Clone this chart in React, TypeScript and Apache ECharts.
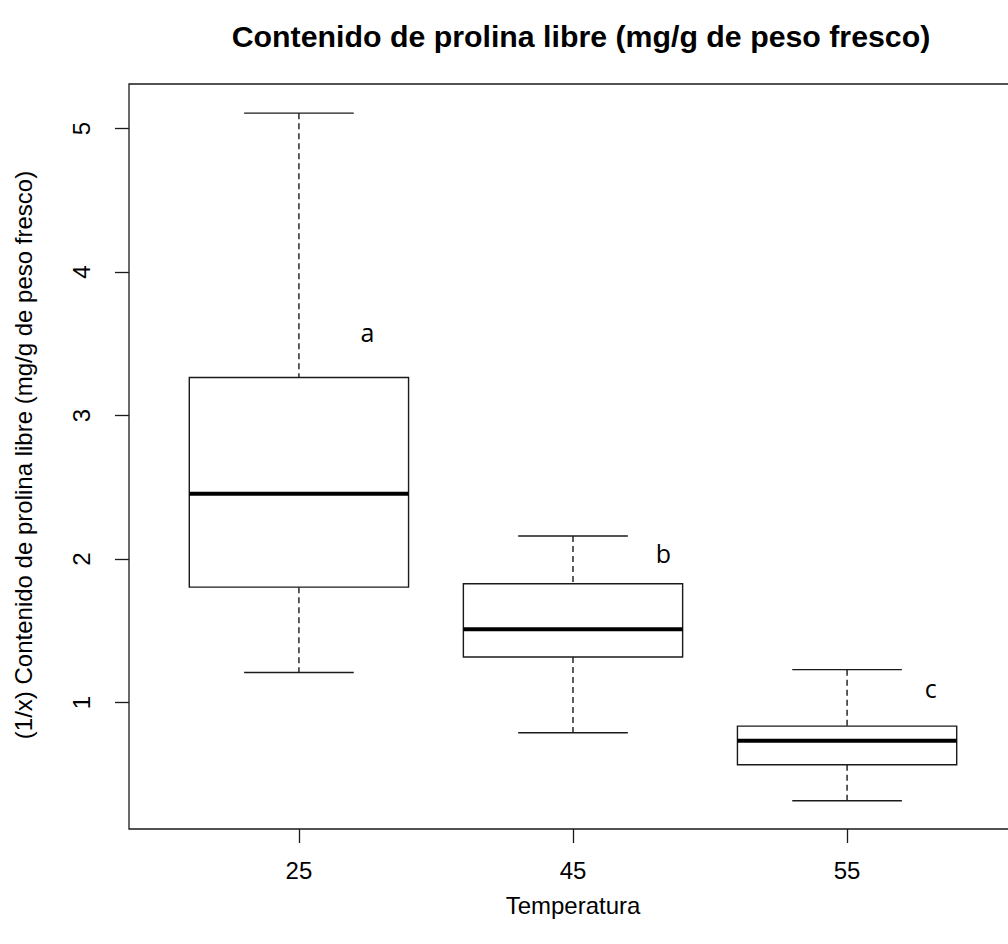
import React, { useEffect, useRef } from "react";
import * as echarts from "echarts";

const categories = ["25", "45", "55"];
const lowWhisker = [1.21, 0.79, 0.317];
const q1 = [1.805, 1.318, 0.568];
const medians = [2.455, 1.511, 0.735];
const q3 = [3.265, 1.829, 0.837];
const highWhisker = [5.107, 2.161, 1.23];
const letters = ["a", "b", "c"];
const letterX = [1.25, 2.33, 3.305];
const letterY = [3.58, 2.04, 1.1];
const yTicks = [1, 2, 3, 4, 5];
const xTicks = [1, 2, 3];

const FONT = "'Liberation Sans', Arial, sans-serif";
const INK = "#1a1a1a";

export default function App() {
  const ref = useRef<HTMLDivElement>(null);
  useEffect(() => {
    if (!ref.current) return;
    const chart = echarts.init(ref.current, undefined, { renderer: "svg" });
    const boxData = categories.map((_, i) => [
      i + 1,
      lowWhisker[i],
      q1[i],
      medians[i],
      q3[i],
      highWhisker[i],
    ]);
    const letterData = letters.map((l, i) => [letterX[i], letterY[i], l]);

    chart.setOption({
      animation: false,
      backgroundColor: "#ffffff",
      grid: {
        left: 129,
        top: 84,
        width: 888,
        height: 745,
        outerBoundsMode: "none",
        containLabel: false,
        show: true,
        borderColor: INK,
        borderWidth: 1.3,
        backgroundColor: "transparent",
      },
      xAxis: {
        type: "value",
        min: 0.38,
        max: 3.62,
        splitLine: { show: false },
        axisLine: { show: false },
        axisTick: {
          show: true,
          length: 14,
          customValues: xTicks,
          lineStyle: { color: INK, width: 1.3 },
        },
        axisLabel: {
          customValues: xTicks,
          formatter: (v: number) => categories[Math.round(v) - 1] ?? "",
          margin: 29,
          fontSize: 24,
          fontFamily: FONT,
          color: "#000",
        },
      },
      yAxis: {
        type: "value",
        min: 0.12,
        max: 5.31,
        splitLine: { show: false },
        axisLine: { show: false },
        axisTick: {
          show: true,
          length: 14,
          customValues: yTicks,
          lineStyle: { color: INK, width: 1.3 },
        },
        axisLabel: {
          customValues: yTicks,
          rotate: 90,
          margin: 36,
          fontSize: 24,
          fontFamily: FONT,
          color: "#000",
        },
      },
      graphic: [
        {
          type: "text",
          x: 581,
          y: 36,
          style: {
            text: "Contenido de prolina libre (mg/g de peso fresco)",
            font: `bold 30.3px ${FONT}`,
            fill: "#000",
            align: "center",
            verticalAlign: "middle",
          },
        },
        {
          type: "text",
          x: 573,
          y: 905,
          style: {
            text: "Temperatura",
            font: `24px ${FONT}`,
            fill: "#000",
            align: "center",
            verticalAlign: "middle",
          },
        },
        {
          type: "text",
          x: 23,
          y: 455,
          rotation: Math.PI / 2,
          style: {
            text: "(1/x) Contenido de prolina libre (mg/g de peso fresco)",
            font: `24px ${FONT}`,
            fill: "#000",
            align: "center",
            verticalAlign: "middle",
          },
        },
      ],
      series: [
        {
          type: "custom",
          data: boxData,
          renderItem: (params: any, api: any) => {
            const x = api.value(0);
            const lo = api.coord([x, api.value(1)]);
            const b1 = api.coord([x, api.value(2)]);
            const md = api.coord([x, api.value(3)]);
            const b3 = api.coord([x, api.value(4)]);
            const hi = api.coord([x, api.value(5)]);
            const left = api.coord([x - 0.4, 0])[0];
            const right = api.coord([x + 0.4, 0])[0];
            const capL = api.coord([x - 0.2, 0])[0];
            const capR = api.coord([x + 0.2, 0])[0];
            const cx = lo[0];
            const solid = { stroke: INK, lineWidth: 1.4, fill: "none" };
            const dashed = { stroke: INK, lineWidth: 1.4, lineDash: [6, 4] };
            return {
              type: "group",
              children: [
                { type: "line", shape: { x1: cx, y1: hi[1], x2: cx, y2: b3[1] }, style: dashed },
                { type: "line", shape: { x1: cx, y1: b1[1], x2: cx, y2: lo[1] }, style: dashed },
                { type: "line", shape: { x1: capL, y1: hi[1], x2: capR, y2: hi[1] }, style: solid },
                { type: "line", shape: { x1: capL, y1: lo[1], x2: capR, y2: lo[1] }, style: solid },
                {
                  type: "rect",
                  shape: { x: left, y: b3[1], width: right - left, height: b1[1] - b3[1] },
                  style: { stroke: INK, lineWidth: 1.4, fill: "#ffffff" },
                },
                {
                  type: "line",
                  shape: { x1: left, y1: md[1], x2: right, y2: md[1] },
                  style: { stroke: "#000", lineWidth: 4 },
                },
              ],
            };
          },
        },
        {
          type: "custom",
          data: letterData,
          renderItem: (params: any, api: any) => {
            const p = api.coord([api.value(0), api.value(1)]);
            return {
              type: "text",
              x: p[0],
              y: p[1],
              style: {
                text: letters[params.dataIndex],
                font: `25px 'Open Sans', sans-serif`,
                fill: "#000",
                align: "center",
                verticalAlign: "middle",
              },
            };
          },
        },
      ],
    });
    return () => chart.dispose();
  }, []);
  return (
    <div
      ref={ref}
      style={{ position: "fixed", left: 0, top: 0, width: 1008, height: 944, background: "#fff" }}
    />
  );
}
